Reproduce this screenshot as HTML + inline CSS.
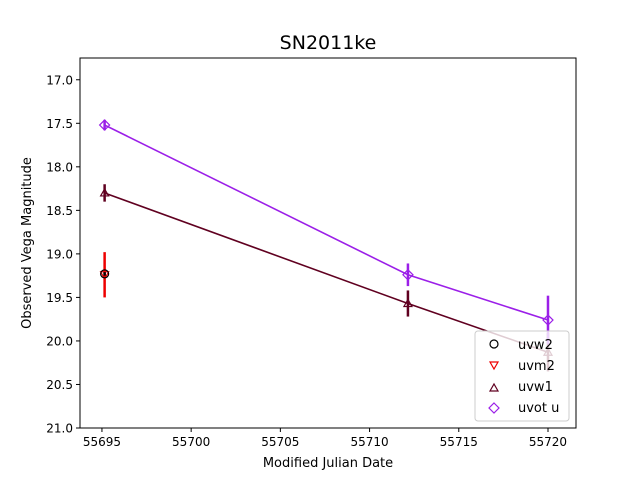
<!DOCTYPE html>
<html><head><meta charset="utf-8"><style>
body{margin:0;background:#fff;font-family:"Liberation Sans","DejaVu Sans",sans-serif}
</style></head><body>
<svg id="chart" width="640" height="480" xmlns="http://www.w3.org/2000/svg" font-family="DejaVu Sans, Liberation Sans, sans-serif">
<rect width="640" height="480" fill="#fff"/>
<text x="328" y="49" font-size="19" text-anchor="middle">SN2011ke</text>
<text x="328" y="467" font-size="13" text-anchor="middle">Modified Julian Date</text>
<text x="31" y="243" font-size="13" text-anchor="middle" transform="rotate(-90 31 243)">Observed Vega Magnitude</text>
<g id="plot"></g>
<rect x="80" y="58" width="496" height="370" fill="none" stroke="#000" stroke-width="1"/>
<g>
<rect x="475" y="331" width="94" height="90" rx="3" fill="#fff" fill-opacity="0.8" stroke="#ccc"/>
<circle cx="494" cy="344" r="4" fill="none" stroke="#000" stroke-width="1.2"/>
<text x="518" y="349" font-size="13">uvw2</text>
<path d="M490,362 L498,362 L494,369 Z" fill="none" stroke="#e00" stroke-width="1.2"/>
<text x="518" y="370" font-size="13">uvm2</text>
<path d="M490,391 L498,391 L494,384 Z" fill="none" stroke="#600020" stroke-width="1.2"/>
<text x="518" y="391" font-size="13">uvw1</text>
<path d="M494,403 L499,408 L494,413 L489,408 Z" fill="none" stroke="#9b1fe8" stroke-width="1.2"/>
<text x="518" y="412" font-size="13">uvot u</text>
</g>
</svg>
<script>
const xTicks=[55695,55700,55705,55710,55715,55720];
const yTicks=[17.0,17.5,18.0,18.5,19.0,19.5,20.0,20.5,21.0];
const uvw2X=[55695.15];const uvw2Y=[19.23];const uvw2E=[0.02];
const uvm2X=[55695.15];const uvm2Y=[19.24];const uvm2E=[0.26];
const uvw1X=[55695.15,55712.15,55720.0];const uvw1Y=[18.3,19.57,20.13];const uvw1E=[0.1,0.15,0.22];
const uvotX=[55695.15,55712.15,55720.0];const uvotY=[17.52,19.24,19.76];const uvotE=[0.06,0.13,0.28];
const X0=80,X1=576,Y0=58,Y1=428,xmin=55693.77,xmax=55721.57,ymin=16.75,ymax=21.0;
function sx(v){return X0+(v-xmin)/(xmax-xmin)*(X1-X0);}
function sy(v){return Y0+(v-ymin)/(ymax-ymin)*(Y1-Y0);}
const NS="http://www.w3.org/2000/svg",g=document.getElementById('plot');
function mk(t,a){const e=document.createElementNS(NS,t);for(const k in a)e.setAttribute(k,a[k]);g.appendChild(e);return e;}
xTicks.forEach(t=>{const x=sx(t);
const l=mk('line',{x1:x,x2:x,y1:Y1,y2:Y1+4,stroke:'#000'});


const tx=mk('text',{x:x,y:Y1+18,'font-size':12,'text-anchor':'middle'});tx.textContent=t;

});
yTicks.forEach(t=>{const y=sy(t);
const l=mk('line',{x1:X0-4,x2:X0,y1:y,y2:y,stroke:'#000'});


const tx=mk('text',{x:X0-7,y:y+4.5,'font-size':12,'text-anchor':'end'});tx.textContent=t.toFixed(1);

});
function series(name,xs,ys,es,col,marker,line){
 if(line){const p=mk('polyline',{points:xs.map((x,i)=>sx(x)+','+sy(ys[i])).join(' '),fill:'none',stroke:col,'stroke-width':1.6});
 
 }
 xs.forEach((x,i)=>{const cx=sx(x),cy=sy(ys[i]);
  const e=mk('line',{x1:cx,x2:cx,y1:sy(ys[i]-es[i]),y2:sy(ys[i]+es[i]),stroke:col,'stroke-width':2.5});
  
  
  let m;
  if(marker==='o')m=mk('circle',{cx:cx,cy:cy,r:4,fill:'none',stroke:col,'stroke-width':1.2});
  else if(marker==='v')m=mk('path',{d:`M${cx-4},${cy-3}L${cx+4},${cy-3}L${cx},${cy+4}Z`,fill:'none',stroke:col,'stroke-width':1.2});
  else if(marker==='^')m=mk('path',{d:`M${cx-4},${cy+3}L${cx+4},${cy+3}L${cx},${cy-4}Z`,fill:'none',stroke:col,'stroke-width':1.2});
  else m=mk('path',{d:`M${cx},${cy-5}L${cx+5},${cy}L${cx},${cy+5}L${cx-5},${cy}Z`,fill:'none',stroke:col,'stroke-width':1.2});
  
  });
}
series('uvm2',uvm2X,uvm2Y,uvm2E,'#e00','v',false);
series('uvw2',uvw2X,uvw2Y,uvw2E,'#000','o',false);
series('uvw1',uvw1X,uvw1Y,uvw1E,'#600020','^',true);
series('uvot-u',uvotX,uvotY,uvotE,'#9b1fe8','d',true);
</script>
</body></html>
